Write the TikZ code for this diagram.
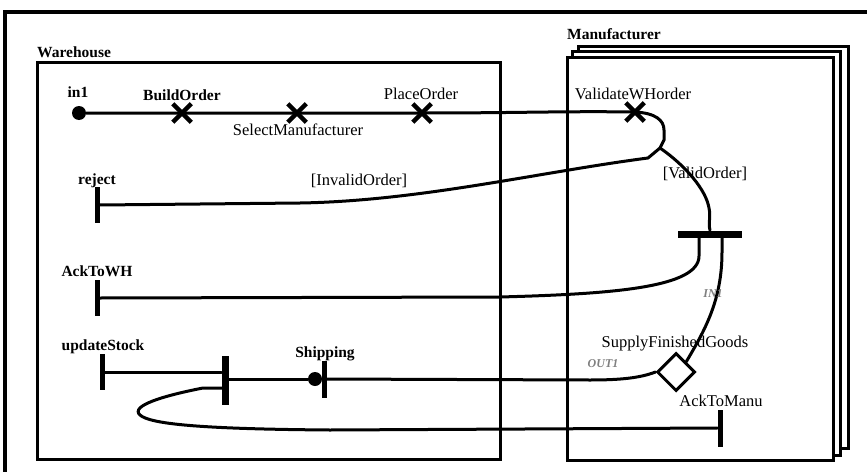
\documentclass[tikz,border=0pt]{standalone}
\usepackage{fontspec}
\setmainfont{Liberation Serif}
\usetikzlibrary{shapes.misc,shapes.geometric}
\begin{document}
\begin{tikzpicture}[x=1pt,y=-1pt,
  box/.style={draw=black,line width=3pt},
  ucm/.style={draw=black,line width=3pt,line cap=round},
  lbl/.style={font=\fontsize{16.5}{18}\selectfont,inner sep=0pt},
  lblb/.style={font=\fontsize{15.5}{18}\selectfont\bfseries,inner sep=0pt},
  tag/.style={font=\fontsize{12}{14}\selectfont\bfseries\itshape,text=black!50,inner sep=0pt},
  startpt/.style={circle,fill=black,minimum size=14pt,inner sep=0pt},
  resp/.style={cross out,draw=black,line width=4.5pt,minimum size=14pt,inner sep=0pt},
  endbar/.style={rectangle,fill=black,minimum width=5pt,minimum height=36pt,inner sep=0pt},
  syncv/.style={rectangle,fill=black,minimum width=7pt,minimum height=49pt,inner sep=0pt},
  synch/.style={rectangle,fill=black,minimum width=64pt,minimum height=7pt,inner sep=0pt},
  stubd/.style={diamond,draw=black,fill=white,line width=3pt,minimum size=38pt,inner sep=0pt}
]
\useasboundingbox (0,0) rectangle (867,471);
\clip (0,0) rectangle (867,471);
\fill[white] (0,0) rectangle (867,471);
% outer frame (only top and left visible)
\draw[line width=4pt] (5,12) rectangle (900,500);
% components
\draw[box] (37,62) rectangle (500,459);
\draw[box,fill=white] (578,46) rectangle (848,448);
\draw[box,fill=white] (572,51) rectangle (840,455);
\draw[box,fill=white] (567,57) rectangle (833,460);
\node[lblb,anchor=base west] (whl) at (37,57) {Warehouse};
\node[lblb,anchor=base west] (mfl) at (567,39) {Manufacturer};

% path elements
\node[startpt] (in1) at (79,113) {};
\node[resp] (build) at (182,113) {};
\node[resp] (sel) at (297,113) {};
\node[resp] (place) at (422,113) {};
\node[resp] (valid) at (635,112) {};
\coordinate (fork) at (660,148);
\node[synch] (andf) at (710,234) {};
\coordinate (f1) at (699,237);
\coordinate (f2) at (722,237);
\node[endbar] (reject) at (97,205) {};
\node[endbar] (ackwh) at (97,298) {};
\node[endbar] (upd) at (102,372) {};
\node[syncv] (join) at (225,380) {};
\coordinate (jl) at (222,388);
\node[startpt] (shipdot) at (315,379) {};
\node[endbar,minimum height=37pt] (shipbar) at (324,379) {};
\node[stubd] (stub) at (676,372) {};
\node[endbar,minimum height=37pt] (ackm) at (720,428) {};

% paths
\draw[ucm] (in1) -- (build.center) -- (sel.center) -- (place.center)
  .. controls (520,113) and (560,111) .. (valid.center)
  .. controls (655,113) and (664,120) .. (664,130) -- (664,140) -- (fork);
\draw[ucm] (fork) -- (648,158) .. controls (540,172) and (420,201) .. (300,203) -- (reject.east);
\draw[ucm] (fork) .. controls (686,166) and (706,190) .. (709,208)
  .. controls (711,218) and (708,222) .. (andf.north);
\draw[ucm] (f1) -- (699,256) .. controls (699,288) and (610,294) .. (500,297) -- (ackwh.east);
\draw[ucm] (f2) -- (722,252) .. controls (722,300) and (705,330) .. (stub.north east);
\draw[ucm] (stub.west) .. controls (640,378) and (620,380) .. (590,380) -- (shipbar.east);
\draw[ucm] (shipdot) -- (join.east |- shipdot);
\draw[ucm] (upd.east) -- (upd.east -| join.west);
\draw[ucm] (jl) -- (203,388) .. controls (162,396) and (130,406) .. (140,415)
  .. controls (150,424) and (200,429) .. (330,430) -- (ackm.west);

% labels
\node[lblb,anchor=base] (l1) at (78,97) {in1};
\node[lblb,anchor=base] (l2) at (182,100) {BuildOrder};
\node[lbl,anchor=base] (l3) at (298,135) {SelectManufacturer};
\node[lbl,anchor=base] (l4) at (421,99) {PlaceOrder};
\node[lbl,anchor=base] (l5) at (633,99) {ValidateWHorder};
\node[lbl,anchor=base] (l6) at (359,185) {[InvalidOrder]};
\node[lbl,anchor=base] (l7) at (705,178) {[ValidOrder]};
\node[lblb,anchor=base] (l8) at (97,184) {reject};
\node[lblb,anchor=base] (l9) at (97,276) {AckToWH};
\node[lblb,anchor=base] (l10) at (103,350) {updateStock};
\node[lblb,anchor=base] (l11) at (325,357) {Shipping};
\node[lbl,anchor=base] (l12) at (675,347) {SupplyFinishedGoods};
\node[lbl,anchor=base] (l13) at (721,406) {AckToManu};
\node[tag,anchor=base] (l14) at (713,297) {IN1};
\node[tag,anchor=base] (l15) at (603,367) {OUT1};
\end{tikzpicture}
\end{document}
